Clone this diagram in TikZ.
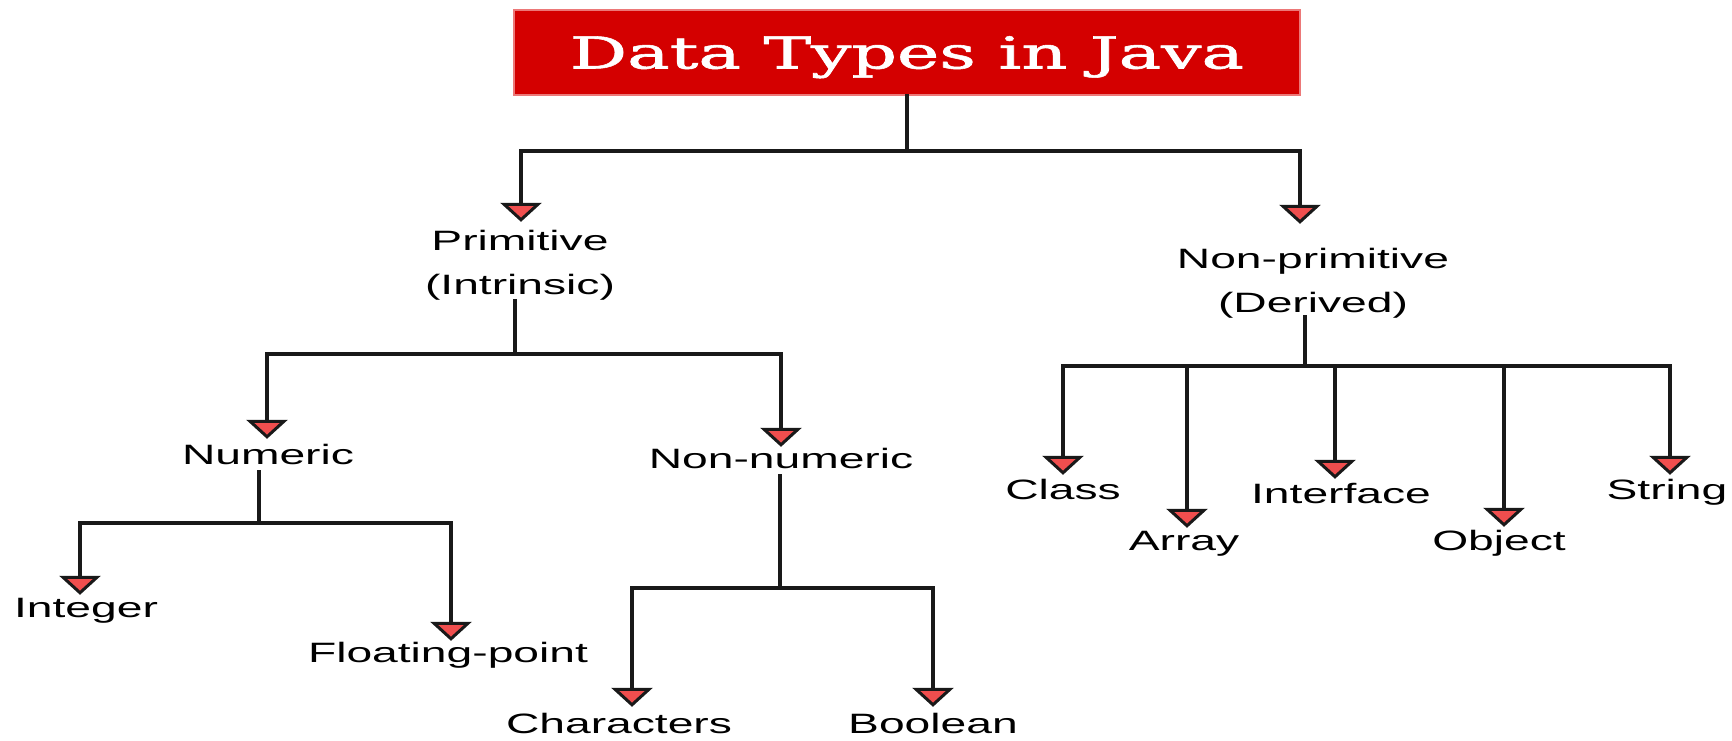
\documentclass[tikz,border=0pt]{standalone}
\usepackage{fontspec}
\setmainfont{Liberation Sans}
\newfontfamily\titlefont[FakeBold=1.2]{DejaVu Serif}
\usepackage{graphicx}
\usetikzlibrary{arrows.meta}
\definecolor{titlered}{RGB}{212,0,0}
\definecolor{titleedge}{RGB}{236,120,120}
\definecolor{arrowred}{RGB}{240,78,78}
\definecolor{linec}{RGB}{25,25,25}
\newcommand{\stx}[1]{\scalebox{1.65}[1]{#1}}
\tikzset{
  conn/.style={draw=linec, line width=3.7pt, line cap=rect},
  arr/.style={draw=linec, line width=3.7pt, -{Triangle[width=41pt,length=19pt,line width=3pt,fill=arrowred]}},
  lbl/.style={inner sep=0pt, anchor=base, text height=20pt, text depth=0pt, font=\fontsize{28}{44}\selectfont, text=black},
  lbltwo/.style={lbl, text depth=44pt},
  titlebox/.style={draw=titleedge, line width=2.5pt, fill=titlered, text=white, minimum width=786pt, minimum height=85pt, inner sep=0pt, text height=32pt, text depth=0pt}
}
\begin{document}
\begin{tikzpicture}[x=1pt,y=-1pt]
\fill[white] (0,0) rectangle (1732,740);
\useasboundingbox (0,0) rectangle (1732,740);

% title
\node[titlebox] (title) at (907,52.5) {\resizebox{674pt}{\height}{\titlefont\fontsize{44}{50}\selectfont Data Types in Java}};

% labels
\node[lbltwo] (prim) at (520,250) {\begin{tabular}[t]{@{}c@{}}\stx{Primitive}\\\stx{(Intrinsic)}\end{tabular}};
\node[lbltwo] (np) at (1313,268) {\begin{tabular}[t]{@{}c@{}}\stx{Non-primitive}\\\stx{(Derived)}\end{tabular}};
\node[lbl] (num) at (268,464) {\stx{Numeric}};
\node[lbl] (nonnum) at (781,468) {\stx{Non-numeric}};
\node[lbl] (nInt) at (86,617) {\stx{Integer}};
\node[lbl] (nFlt) at (448,662) {\stx{Floating-point}};
\node[lbl] (nChr) at (619,733) {\stx{Characters}};
\node[lbl] (nBool) at (933,733) {\stx{Boolean}};
\node[lbl] (nCls) at (1063,499) {\stx{Class}};
\node[lbl] (nArr) at (1184,550) {\stx{Array}};
\node[lbl] (nIfc) at (1341,503) {\stx{Interface}};
\node[lbl] (nObj) at (1499,550) {\stx{Object}};
\node[lbl] (nStr) at (1667,499) {\stx{String}};

% junction coordinates
\coordinate (dprim) at (521,151);
\coordinate (dnp) at (1300,151);
\coordinate (j1) at (515,354);
\coordinate (dnum) at (267,354);
\coordinate (dnon) at (781,354);
\coordinate (j2) at (259,523);
\coordinate (dInt) at (80,523);
\coordinate (dFlt) at (451,523);
\coordinate (j3) at (780,588);
\coordinate (dChr) at (632,588);
\coordinate (dBool) at (933,588);
\coordinate (j4) at (1305,366);
\coordinate (dCls) at (1063,366);
\coordinate (dArr) at (1187,366);
\coordinate (dIfc) at (1335,366);
\coordinate (dObj) at (1504,366);
\coordinate (dStr) at (1670,366);

% level 0
\draw[conn] (title.south) -- (title.south |- dprim);
\draw[conn] (dprim) -- (dnp);
\draw[arr, shorten >=8pt] (dprim) -- (dprim |- prim.north);
\draw[arr, shorten >=24pt] (dnp) -- (dnp |- np.north);

% primitive
\draw[conn, shorten <=7pt] (prim.south -| j1) -- (j1);
\draw[conn] (dnum) -- (dnon);
\draw[arr, shorten >=5pt] (dnum) -- (dnum |- num.north);
\draw[arr, shorten >=1pt] (dnon) -- (dnon |- nonnum.north);

% numeric
\draw[conn, shorten <=8pt] (num.south -| j2) -- (j2);
\draw[conn] (dInt) -- (dFlt);
\draw[arr, shorten >=2pt] (dInt) -- (dInt |- nInt.north);
\draw[arr, shorten >=1pt] (dFlt) -- (dFlt |- nFlt.north);

% non-numeric
\draw[conn, shorten <=8pt] (nonnum.south -| j3) -- (j3);
\draw[conn] (dChr) -- (dBool);
\draw[arr, shorten >=6pt] (dChr) -- (dChr |- nChr.north);
\draw[arr, shorten >=6pt] (dBool) -- (dBool |- nBool.north);

% non-primitive
\draw[conn, shorten <=5pt] (np.south -| j4) -- (j4);
\draw[conn] (dCls) -- (dStr);
\draw[arr, shorten >=4pt] (dCls) -- (dCls |- nCls.north);
\draw[arr, shorten >=2pt] (dArr) -- (dArr |- nArr.north);
\draw[arr, shorten >=4pt] (dIfc) -- (dIfc |- nIfc.north);
\draw[arr, shorten >=3pt] (dObj) -- (dObj |- nObj.north);
\draw[arr, shorten >=4pt] (dStr) -- (dStr |- nStr.north);
\end{tikzpicture}
\end{document}
